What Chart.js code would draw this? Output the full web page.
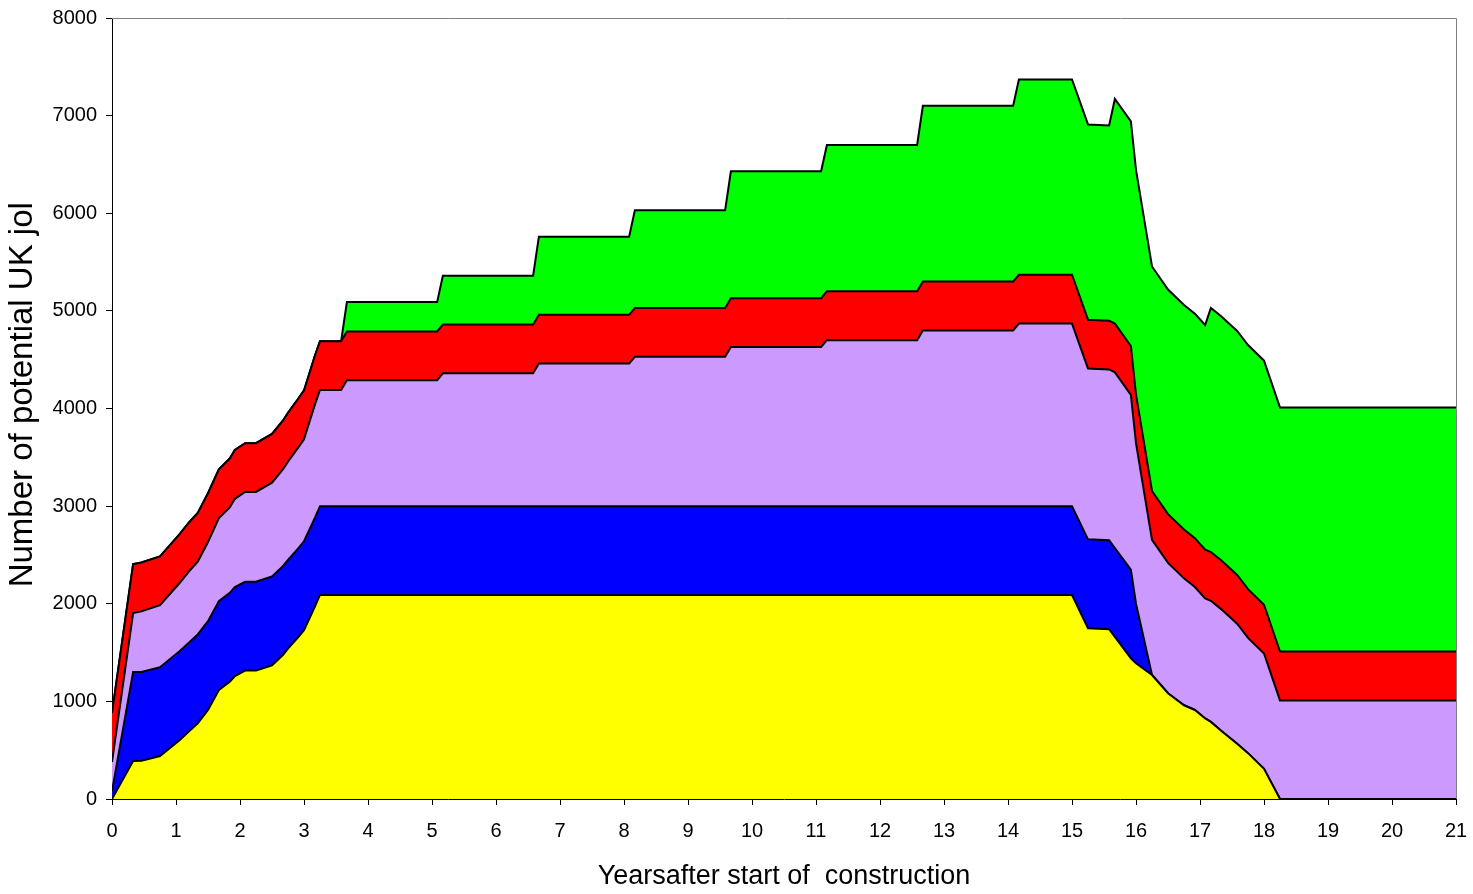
<!DOCTYPE html>
<html>
<head>
<meta charset="utf-8">
<title>Potential UK jobs</title>
<script src="https://cdn.jsdelivr.net/npm/chart.js@4.4.1/dist/chart.umd.min.js"></script>
<style>
  html, body { margin: 0; padding: 0; background: #fff; }
  #wrap { width: 1473px; height: 894px; position: relative; }
</style>
</head>
<body>
<div id="wrap"><canvas id="jobsChart" width="1473" height="894"></canvas></div>
<script>
// Years after start of construction (breakpoints)
const years = [0, 0.33, 0.46, 0.75, 1.06, 1.2, 1.34, 1.5, 1.67, 1.84, 1.92, 2.08, 2.25, 2.5, 2.67, 2.75, 2.92, 3.0, 3.17, 3.25,
  3.58, 3.67, 5.08, 5.17, 6.58, 6.67, 8.08, 8.17, 9.58, 9.67, 11.08, 11.17, 12.58, 12.67, 14.08, 14.17, 15.0,
  15.25, 15.58, 15.67, 15.92, 16.0, 16.25, 16.5, 16.75, 16.92, 17.08, 17.17, 17.33, 17.58, 17.75, 18.0, 18.25, 21];

// Jobs per layer (stacked bottom to top)
const yellowJobs = [0, 390, 392, 440, 605, 690, 776, 912, 1117, 1202, 1260, 1315, 1315, 1370, 1475, 1540, 1665, 1730, 1970, 2090,
  2090, 2090, 2090, 2090, 2090, 2090, 2090, 2090, 2090, 2090, 2090, 2090, 2090, 2090, 2090, 2090, 2090,
  1750, 1740, 1660, 1440, 1390, 1270, 1083, 960, 912, 825, 790, 700, 565, 470, 310, 0, 0];
const blueJobs = [80, 910, 910, 910, 910, 910, 910, 910, 910, 910, 910, 910, 910, 910, 910, 910, 910, 910, 910, 910,
  910, 910, 910, 910, 910, 910, 910, 910, 910, 910, 910, 910, 910, 910, 910, 910, 910,
  910, 910, 910, 910, 610, 0, 0, 0, 0, 0, 0, 0, 0, 0, 0, 0, 0];
const lilacJobs = [300, 605, 620, 635, 700, 730, 745, 810, 850, 875, 905, 920, 920, 960, 990, 1005, 1035, 1045, 1160, 1190,
  1190, 1290, 1290, 1360, 1360, 1460, 1460, 1530, 1530, 1630, 1630, 1700, 1700, 1800, 1800, 1870, 1870,
  1750, 1750, 1800, 1790, 1645, 1385, 1335, 1300, 1260, 1230, 1240, 1245, 1230, 1180, 1180, 1010, 1010];
const redJobs = [500, 500, 500, 500, 500, 500, 500, 500, 500, 500, 500, 500, 500, 500, 500, 500, 500, 500, 500, 500,
  500, 500, 500, 500, 500, 500, 500, 500, 500, 500, 500, 500, 500, 500, 500, 500, 500,
  500, 500, 500, 500, 500, 500, 500, 500, 500, 500, 500, 500, 500, 500, 500, 500, 500];
const greenJobs = [0, 0, 0, 0, 0, 0, 0, 0, 0, 0, 0, 0, 0, 0, 0, 0, 0, 0, 0, 0,
  0, 300, 300, 500, 500, 800, 800, 1000, 1000, 1300, 1300, 1500, 1500, 1800, 1800, 2000, 2000,
  2000, 2000, 2300, 2300, 2300, 2300, 2300, 2300, 2300, 2300, 2500, 2500, 2500, 2500, 2500, 2500, 2500];

const layers = [
  { name: 'yellow', values: yellowJobs, color: '#ffff00' },
  { name: 'blue', values: blueJobs, color: '#0000ff' },
  { name: 'lilac', values: lilacJobs, color: '#cc99ff' },
  { name: 'red', values: redJobs, color: '#ff0000' },
  { name: 'green', values: greenJobs, color: '#00ff00' }
];

const FONT = "'Liberation Sans', Arial, sans-serif";

// gray frame on top and right like the original plot area
const framePlugin = {
  id: 'frame',
  afterDraw(chart) {
    const { ctx, chartArea: a } = chart;
    ctx.save();
    ctx.strokeStyle = '#808080';
    ctx.lineWidth = 1;
    ctx.beginPath();
    ctx.moveTo(a.left, a.top + 0.5);
    ctx.lineTo(a.right + 0.5, a.top + 0.5);
    ctx.lineTo(a.right + 0.5, a.bottom);
    ctx.stroke();
    ctx.restore();
  }
};

new Chart(document.getElementById('jobsChart'), {
  type: 'line',
  data: {
    datasets: layers.map((l, i) => ({
      label: l.name,
      data: years.map((x, k) => ({ x: x, y: l.values[k] })),
      backgroundColor: l.color,
      borderColor: '#000',
      borderWidth: 2,
      fill: i === 0 ? 'origin' : '-1',
      tension: 0,
      pointRadius: 0
    }))
  },
  options: {
    responsive: false,
    animation: false,
    devicePixelRatio: 1,
    layout: { padding: { top: 18, right: 17, left: 0, bottom: 0 } },
    plugins: { legend: { display: false }, tooltip: { enabled: false } },
    scales: {
      x: {
        type: 'linear',
        min: 0, max: 21,
        afterFit(s) { s.height = 95; s.paddingLeft = 0; s.paddingRight = 0; },
        ticks: { stepSize: 1, autoSkip: false, maxRotation: 0, color: '#000', padding: 14,
          font: { family: FONT, size: 20 }, callback: v => String(v) },
        grid: { drawOnChartArea: false, drawTicks: true, tickLength: 6, color: '#000' },
        border: { color: '#000', width: 1 },
        title: { display: true, text: 'Yearsafter start of  construction', color: '#000',
          font: { family: FONT, size: 27 }, padding: { top: 2, bottom: 1 } }
      },
      y: {
        stacked: true,
        min: 0, max: 8000,
        afterFit(s) { s.width = 112; s.paddingTop = 0; s.paddingBottom = 0; },
        ticks: { stepSize: 1000, autoSkip: false, color: '#000', padding: 9,
          font: { family: FONT, size: 20 }, callback: v => String(v) },
        grid: { drawOnChartArea: false, drawTicks: true, tickLength: 6, color: '#000' },
        border: { color: '#000', width: 1 },
        title: { display: true, text: '   Number of potential UK jol', color: '#000',
          font: { family: FONT, size: 33 }, padding: { top: 3, bottom: 0 } }
      }
    }
  },
  plugins: [framePlugin]
});
</script>
</body>
</html>
